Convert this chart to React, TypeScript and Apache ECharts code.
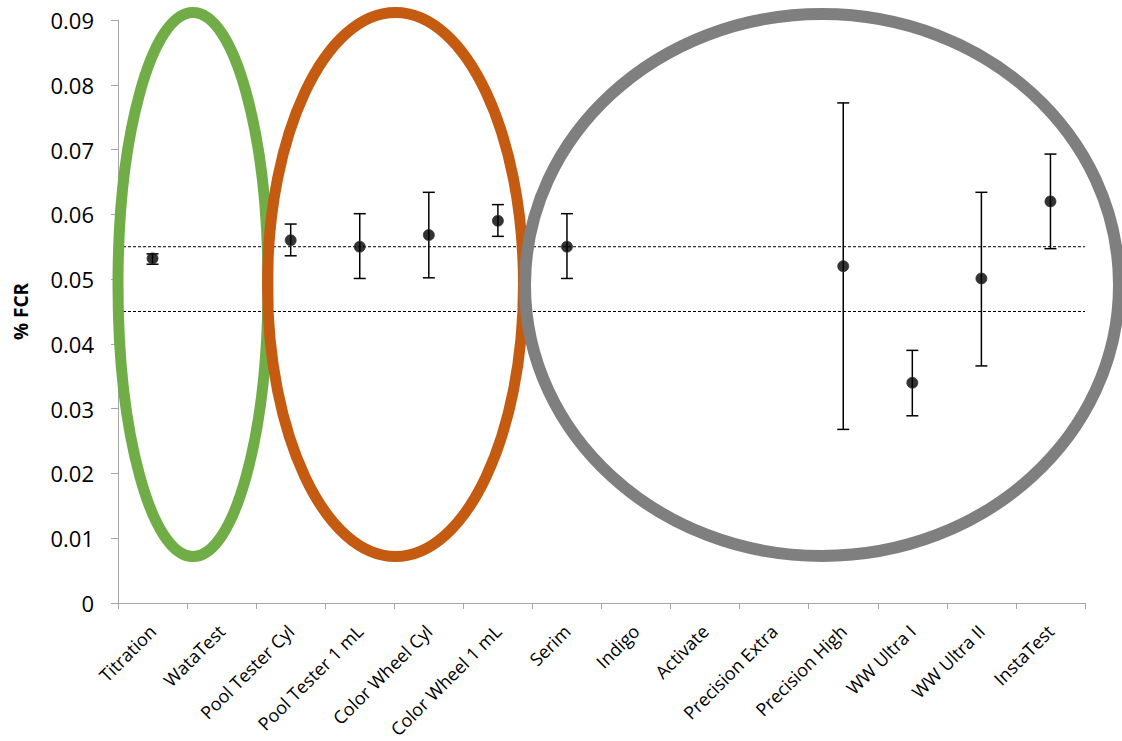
import React, { useEffect, useRef } from "react";
import * as echarts from "echarts";

const categories = [
  "Titration",
  "WataTest",
  "Pool Tester Cyl",
  "Pool Tester 1 mL",
  "Color Wheel Cyl",
  "Color Wheel 1 mL",
  "Serim",
  "Indigo",
  "Activate",
  "Precision Extra",
  "Precision High",
  "WW Ultra I",
  "WW Ultra II",
  "InstaTest",
];

const means: (number | null)[] = [
  0.0532, null, 0.056, 0.055, 0.0568, 0.059, 0.055, null, null, null, 0.052, 0.034, 0.0501, 0.062,
];
const lowers: (number | null)[] = [
  0.0523, null, 0.0536, 0.0501, 0.0502, 0.0566, 0.0501, null, null, null, 0.0268, 0.0289, 0.0366, 0.0547,
];
const uppers: (number | null)[] = [
  0.0539, null, 0.0585, 0.0601, 0.0634, 0.0615, 0.0601, null, null, null, 0.0772, 0.039, 0.0634, 0.0693,
];
const referenceLines = [0.055, 0.045];
const yTicks = { min: 0, max: 0.09, interval: 0.01 };

const FONT = "'Open Sans', 'Noto Sans', sans-serif";

export default function App() {
  const ref = useRef<HTMLDivElement>(null);

  useEffect(() => {
    document.body.style.margin = "0";
    if (!ref.current) return;
    const chart = echarts.init(ref.current, null, { renderer: "svg" });

    const errData = categories
      .map((_, i) => (lowers[i] != null && uppers[i] != null ? [i, lowers[i], uppers[i]] : null))
      .filter((d) => d !== null);

    const option: any = {
      animation: false,
      backgroundColor: "#ffffff",
      grid: { left: 118, right: 37, top: 20, bottom: 138, containLabel: false, outerBoundsMode: "none" },
      xAxis: {
        type: "category",
        data: categories,
        boundaryGap: true,
        axisLine: { lineStyle: { color: "#A6A6A6", width: 1 } },
        axisTick: { show: true, length: 6, lineStyle: { color: "#A6A6A6" }, alignWithLabel: false },
        axisLabel: {
          interval: 0,
          rotate: 45,
          color: "#000",
          fontSize: 18,
          fontFamily: FONT,
          margin: 25,
        },
        splitLine: { show: false },
      },
      yAxis: {
        type: "value",
        min: yTicks.min,
        max: yTicks.max,
        interval: yTicks.interval,
        name: "% FCR",
        nameLocation: "middle",
        nameGap: 88,
        nameTextStyle: { color: "#000", fontSize: 19, fontWeight: "bold", fontFamily: FONT },
        axisLine: { show: true, lineStyle: { color: "#A6A6A6", width: 1 } },
        axisTick: { show: true, length: 7, lineStyle: { color: "#A6A6A6" } },
        axisLabel: {
          color: "#000",
          fontSize: 22,
          fontFamily: FONT,
          margin: 24,
          formatter: (v: number) => (v === 0 ? "0" : String(+v.toFixed(2))),
        },
        splitLine: { show: false },
      },
      series: [
        {
          type: "custom",
          name: "reference",
          data: referenceLines.map((v) => [0, v]),
          encode: { x: 0, y: 1 },
          z: 2,
          silent: true,
          renderItem: (params: any, api: any) => {
            const cs = params.coordSys;
            const y = api.coord([0, api.value(1)])[1];
            return {
              type: "line",
              shape: { x1: cs.x, y1: y, x2: cs.x + cs.width, y2: y },
              style: { stroke: "#000", lineWidth: 1, lineDash: [3, 2] },
            };
          },
        },
        {
          type: "custom",
          name: "range",
          data: errData,
          encode: { x: 0, y: [1, 2] },
          z: 3,
          renderItem: (params: any, api: any) => {
            const x = api.value(0);
            const lo = api.value(1);
            const hi = api.value(2);
            const top = api.coord([x, hi]);
            const bot = api.coord([x, lo]);
            const hw = 6;
            const st = { stroke: "#000", lineWidth: 1.5 };
            return {
              type: "group",
              children: [
                { type: "line", shape: { x1: top[0], y1: top[1], x2: bot[0], y2: bot[1] }, style: st },
                { type: "line", shape: { x1: top[0] - hw, y1: top[1], x2: top[0] + hw, y2: top[1] }, style: st },
                { type: "line", shape: { x1: bot[0] - hw, y1: bot[1], x2: bot[0] + hw, y2: bot[1] }, style: st },
              ],
            };
          },
        },
        {
          type: "scatter",
          name: "mean",
          data: means.map((v) => (v == null ? "-" : v)),
          symbol: "circle",
          symbolSize: 11,
          z: 4,
          itemStyle: { color: "#000", borderColor: "#333", borderWidth: 1 },
        },
      ],
      graphic: [
        {
          type: "ellipse",
          z: 100,
          shape: { cx: 193, cy: 284.5, rx: 75, ry: 272 },
          style: { fill: "none", stroke: "#70AD47", lineWidth: 11 },
        },
        {
          type: "ellipse",
          z: 101,
          shape: { cx: 395.5, cy: 284.5, rx: 128, ry: 272 },
          style: { fill: "none", stroke: "#C55A11", lineWidth: 11 },
        },
        {
          type: "ellipse",
          z: 102,
          shape: { cx: 822, cy: 285, rx: 297, ry: 271 },
          style: { fill: "none", stroke: "#7F7F7F", lineWidth: 12 },
        },
      ],
    };

    chart.setOption(option);
    return () => chart.dispose();
  }, []);

  return <div ref={ref} style={{ width: 1122, height: 741 }} />;
}
